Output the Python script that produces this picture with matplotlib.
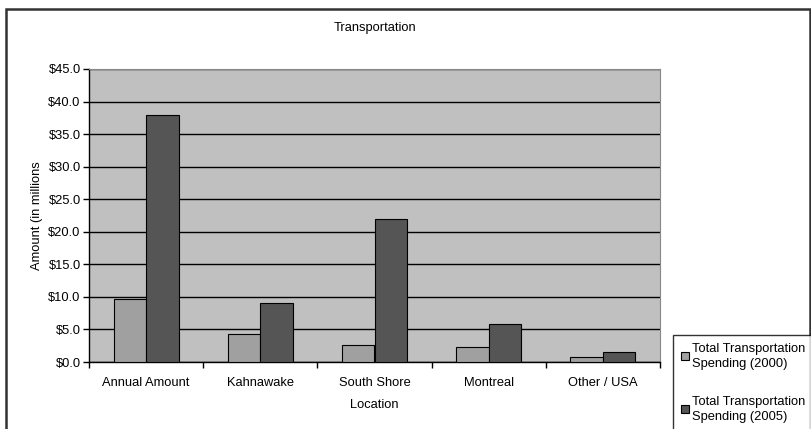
import matplotlib.pyplot as plt
import matplotlib.patches as mpatches
import numpy as np

plt.rcParams['font.family'] = ['Liberation Sans', 'DejaVu Sans']

locations = ['Annual Amount', 'Kahnawake', 'South Shore', 'Montreal', 'Other / USA']
spending_2000 = [9.7, 4.3, 2.6, 2.3, 0.8]
spending_2005 = [38.0, 9.1, 22.0, 5.8, 1.6]
y_ticks = [0, 5, 10, 15, 20, 25, 30, 35, 40, 45]

W, H = 811, 429
fs = 9.3
fig = plt.figure(figsize=(W / 100, H / 100), dpi=100)
fig.patch.set_facecolor('white')

# outer chart frame
fig.patches.append(mpatches.Rectangle((6 / W, -0.01), (810 - 6) / W, 1 - 9 / H + 0.01,
                                      transform=fig.transFigure, fill=False,
                                      edgecolor='#333333', linewidth=1.8))

ax = fig.add_axes([89 / W, (H - 362) / H, (660 - 89) / W, (362 - 69) / H])
ax.set_facecolor('#c0c0c0')

x = np.arange(len(locations))
bw = 0.285
ax.bar(x - bw / 2, spending_2000, bw, color='#a0a0a0', edgecolor='black', linewidth=0.8,
       label='Total Transportation\nSpending (2000)', zorder=3)
ax.bar(x + bw / 2, spending_2005, bw, color='#555555', edgecolor='black', linewidth=0.8,
       label='Total Transportation\nSpending (2005)', zorder=3)

ax.set_xlim(-0.5, len(locations) - 0.5)
ax.set_ylim(0, 45)
ax.set_yticks(y_ticks)
ax.set_yticklabels([f'${v:.1f}' for v in y_ticks], fontsize=fs)
ax.yaxis.grid(True, color='black', linewidth=1.0, zorder=1)
ax.set_axisbelow(True)

ax.set_xticks(x)
ax.set_xticklabels(locations, fontsize=fs)
ax.tick_params(axis='x', length=0, pad=11)
ax.set_xticks(np.arange(len(locations) + 1) - 0.5, minor=True)
ax.tick_params(axis='x', which='minor', length=4, width=1, direction='out')
ax.tick_params(axis='y', length=4, width=1, direction='out', pad=2)

for side in ['top', 'right']:
    ax.spines[side].set_color('#888888')
    ax.spines[side].set_linewidth(0.8)
for side in ['left', 'bottom']:
    ax.spines[side].set_color('black')
    ax.spines[side].set_linewidth(1.0)

ax.set_xlabel('Location', fontsize=fs, labelpad=7)
ax.set_ylabel('Amount (in millions', fontsize=fs, labelpad=4)
fig.text(0.5 * (89 + 660) / W, 1 - 28 / H, 'Transportation', ha='center', va='center',
         fontsize=fs)

leg = fig.legend(loc='upper left', bbox_to_anchor=(673 / W, 1 - 335 / H), fontsize=9.3,
                 frameon=True, fancybox=False, edgecolor='black', handlelength=0.6,
                 handleheight=0.6, handletextpad=0.3, labelspacing=2.0,
                 borderpad=0.6, borderaxespad=0)
for t in leg.get_texts():
    t.set_linespacing(1.35)
leg.get_frame().set_linewidth(1.0)

fig.savefig('out.png', dpi=100)
